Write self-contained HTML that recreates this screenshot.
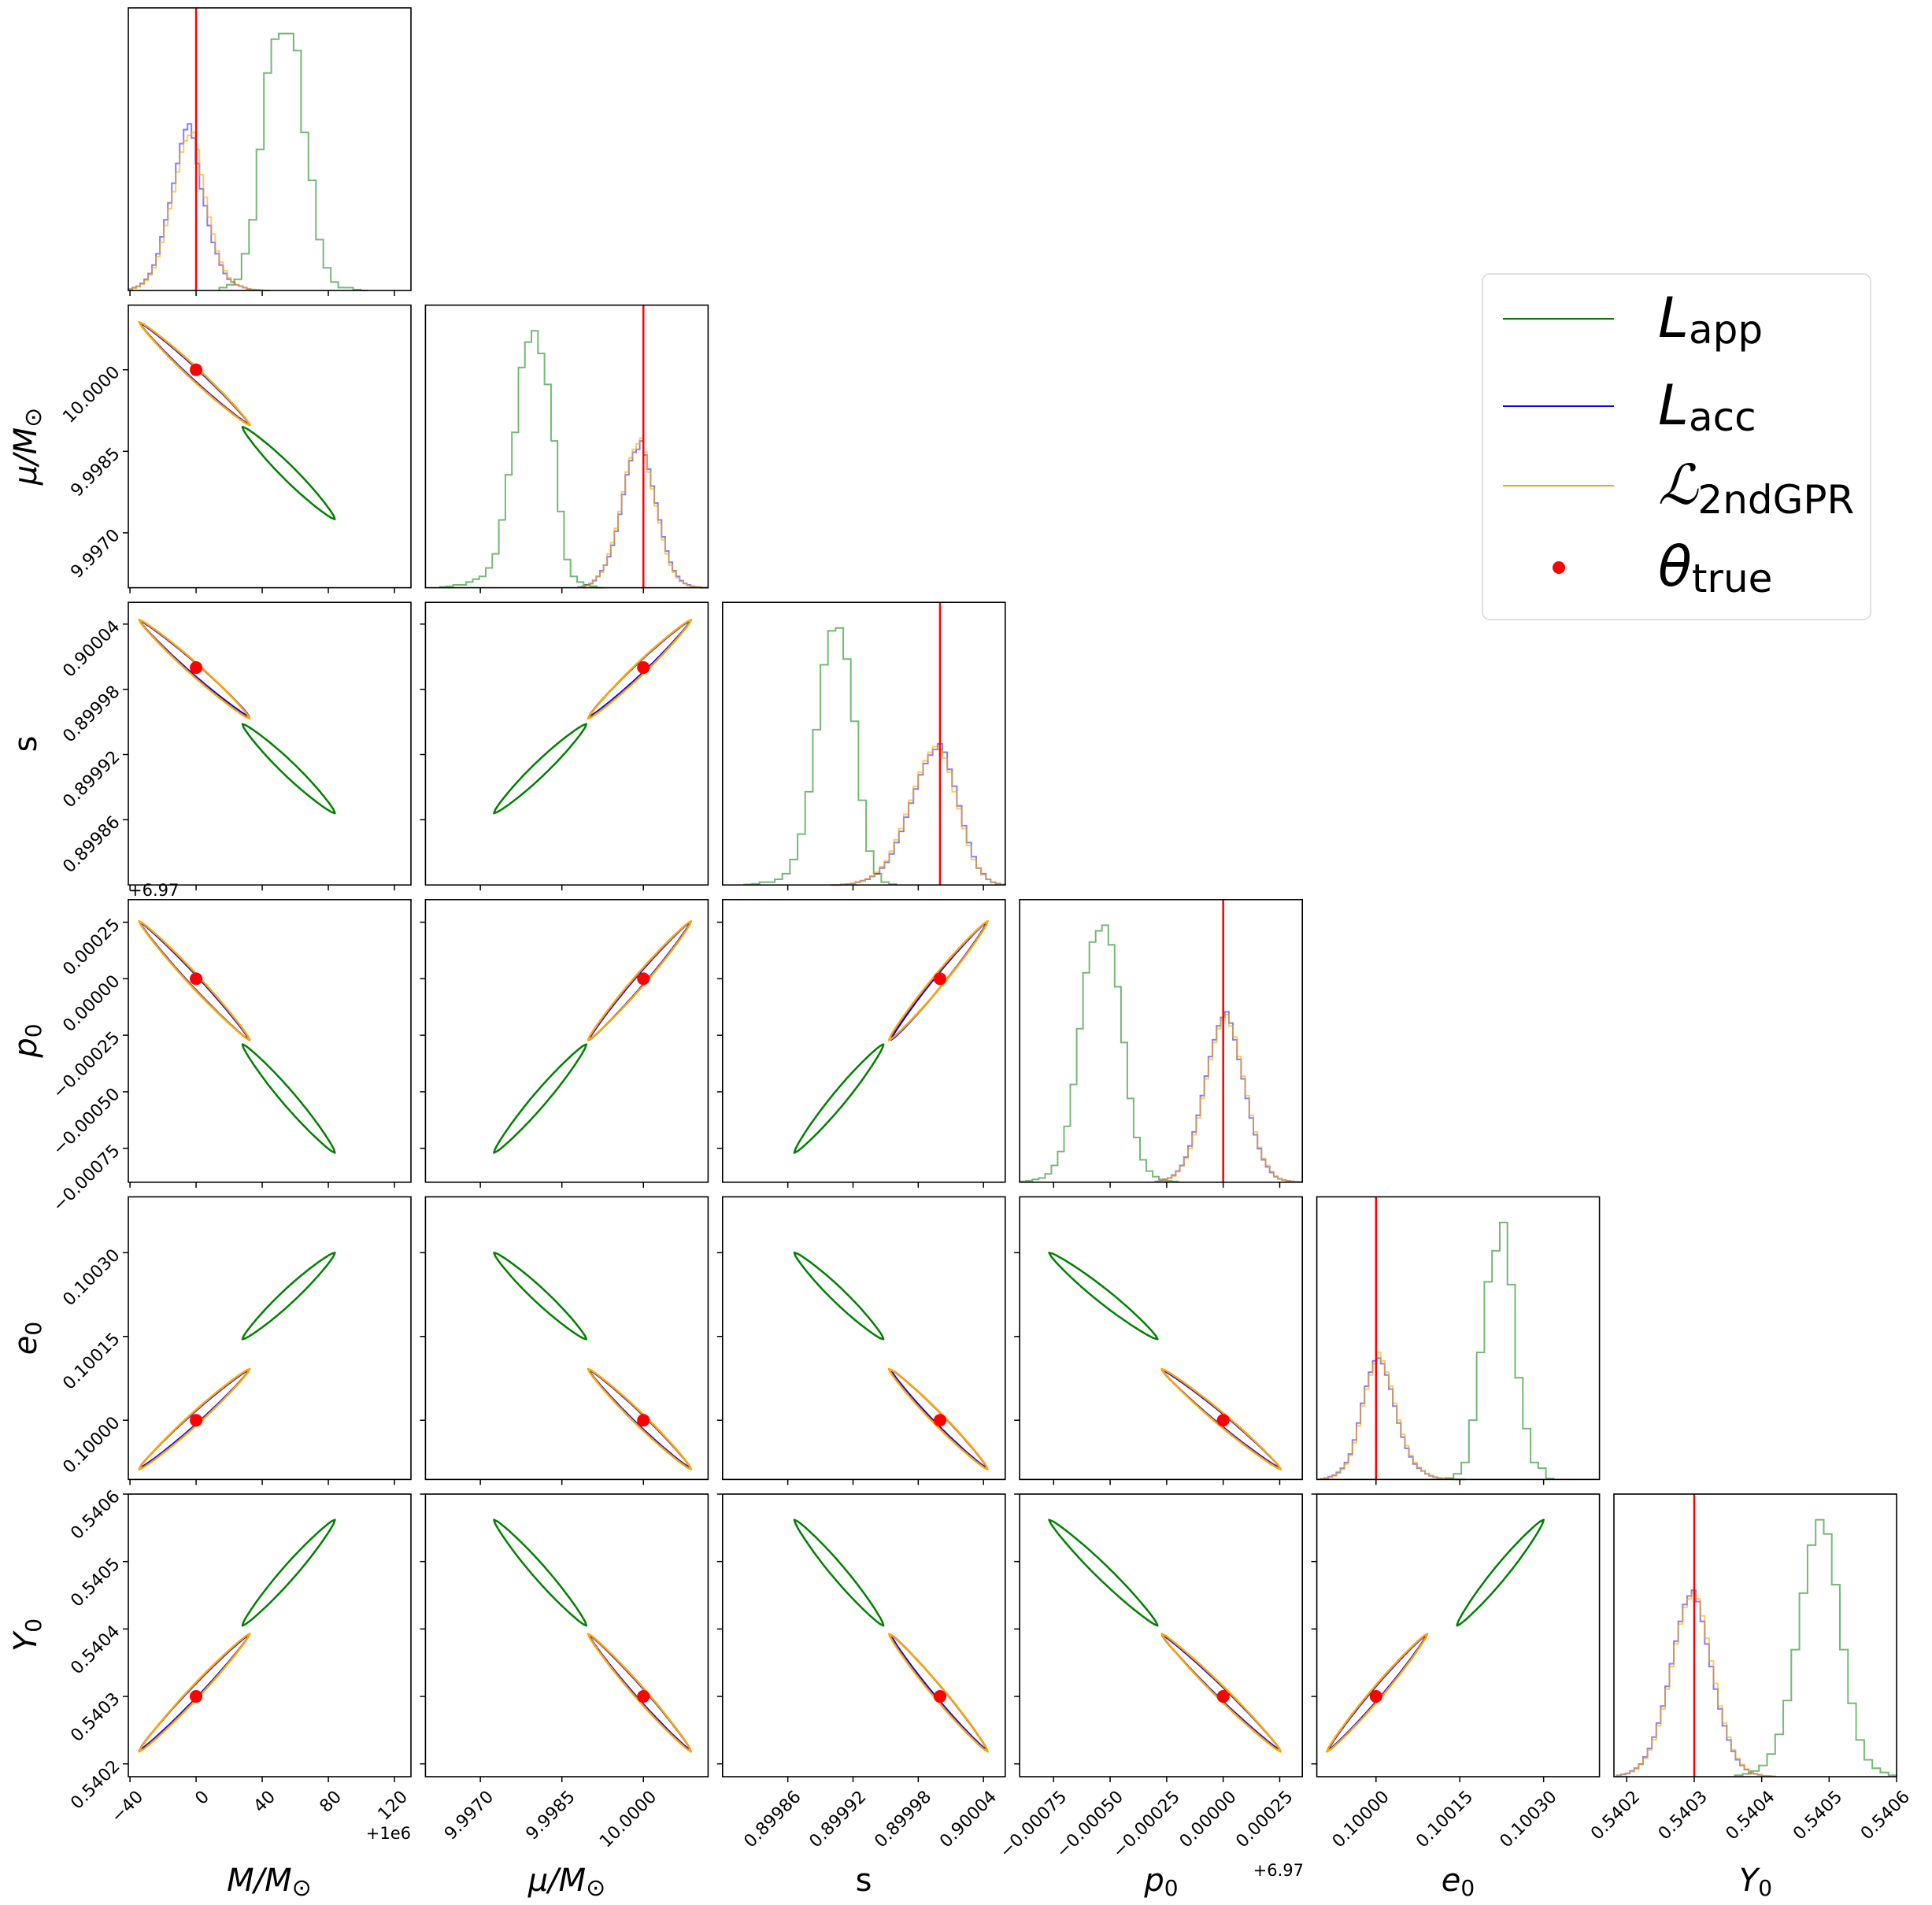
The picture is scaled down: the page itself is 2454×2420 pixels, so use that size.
<!DOCTYPE html>
<html><head><meta charset="utf-8">
<style>
html,body{margin:0;padding:0;background:#fff;}
svg{display:block;font-family:"DejaVu Sans","Liberation Sans",sans-serif;}
</style></head>
<body>
<svg id="fig" width="2454" height="2420" viewBox="0 0 2454 2420" xmlns="http://www.w3.org/2000/svg">
<rect width="2454" height="2420" fill="#fff"/>
</svg>
<script>
// ---------- data ----------
const paramNames = ["M","mu","s","p","e","Y"];
const truths = [0, 10.0, 0.9, 0.0, 0.1, 0.5403];
const domLo = [-41, 9.99599, 0.89980, -0.00090, 0.099894, 0.540181];
const domHi = [130, 10.00119, 0.90006, 0.00035, 0.100400, 0.540600];
const tickVals = [
  [-40,0,40,80,120],
  [9.9970,9.9985,10.0000],
  [0.89986,0.89992,0.89998,0.90004],
  [-0.00075,-0.00050,-0.00025,0,0.00025],
  [0.10000,0.10015,0.10030],
  [0.5402,0.5403,0.5404,0.5405,0.5406]
];
const tickLabels = [
  ["\u221240","0","40","80","120"],
  ["9.9970","9.9985","10.0000"],
  ["0.89986","0.89992","0.89998","0.90004"],
  ["\u22120.00075","\u22120.00050","\u22120.00025","0.00000","0.00025"],
  ["0.10000","0.10015","0.10030"],
  ["0.5402","0.5403","0.5404","0.5405","0.5406"]
];
const greenLo = [14, 9.99626, 0.89982, -0.00090, 0.100125, 0.54036];
const greenHi = [104, 9.99926, 0.89996, -0.00020, 0.100318, 0.54060];
const greenM = [1,2,4,13,25,50,77,89,91,91,85,56,39,18,8,3,1,1,0.3,0];
const greenMu = [0.3,0.5,1,1,2,3,4,7,12,24,40,55,78,87,91,83,72,52,27,10,4,2,1,0.5,0];
const greenS = [0.2,0.4,1,1,2,4,9,18,33,55,78,90,91,80,58,30,12,4,1,0.3];
const greenP = [0.3,0.5,1,1.5,3,6,11,20,35,55,75,86,90,92,85,70,50,30,16,8,4,2,1,0.5,0.3];
const greenE = [0.5,2,6,21,45,70,81,91,69,36,18,6,4,0.3];
const greenY = [0.5,1,2,4,8,15,27,45,65,82,91,86,68,45,26,13,6,3,1.5,0.5];
const blueLo = [-41, 9.99880, 0.89990, -0.00030, 0.09990, 0.540185];
const blueHi = [45, 10.00120, 0.90006, 0.00035, 0.10016, 0.540420];
const blueM = [0.5,1,1.5,2.5,4,6,9,13,19,25,31,38,45,52,57,59,54,45,36,30,23,17,13,9,6,4,3,2,1.5,1,0.5,0.3,0.2,0.1,0,0];
const blueMu = [0.3,0.5,1,1.5,2.5,4,6,8,11,15,20,26,33,40,45,48,49,52,47,42,36,30,24,18,13,9,6,4,2.5,1.5,1,0.5,0.3,0.2,0,0];
const blueS = [0,0,0.2,0.3,0.5,1,1.5,2,3,4,6,8,11,15,19,24,29,34,39,43,46,48,50,47,41,35,28,21,15,10,6,4,2,1,0.5,0.2];
const blueP = [0.3,0.5,1,1.5,2.5,4,6,9,13,18,24,31,38,45,51,56,59,61,57,51,44,37,30,23,17,12,8,5.5,3.5,2,1.2,0.8,0.5,0.3,0.2,0.1];
const blueE = [0.2,0.5,1,1.5,2.5,4,6,9,14,20,27,33,38,42,43,41,37,32,26,20,15,11,8,5.5,4,3,2,1.3,0.8,0.5,0.3,0.2,0.1,0,0,0];
const blueY = [0.5,0.8,1.2,2,3,4.5,7,10,14,19,25,32,40,48,55,61,64,66,62,55,47,39,31,24,18,13,9,6,4,2.5,1.5,1,0.6,0.3,0.2,0.1];
const orangeM = [0.5,0.8,1.3,2.2,3.5,5.5,8,12,17,23,29,35,42,49,53,55,56,50,41,33,26,20,14,10,7,4.5,3,2,1.5,1,0.6,0.3,0.2,0.1,0,0];
const orangeMu = [0.2,0.4,0.8,1.5,2.8,4,5.5,8,12,16,21,27,34,41,46,49,51,53,48,41,35,29,23,17,12,8,5.5,3.5,2.2,1.5,0.8,0.5,0.3,0.1,0,0];
const orangeS = [0,0,0.1,0.3,0.6,0.9,1.4,2.2,3.2,4.5,6.5,8.5,12,16,20,25,30,35,40,44,47,49,48,45,40,33,27,20,14,9,6,3.5,2,1,0.4,0.2];
const orangeP = [0.2,0.4,0.9,1.4,2.2,3.8,5.8,8.5,12,17,23,30,37,44,50,55,58,60,56,52,45,38,31,24,18,12.5,8.5,6,3.8,2.2,1.3,0.8,0.5,0.3,0.2,0.1];
const orangeE = [0.2,0.4,0.8,1.3,2.2,3.6,5.5,8.5,13,19,26,32,37,41,45,42,38,33,27,21,16,12,8.5,6,4.2,3,2,1.4,0.9,0.5,0.3,0.2,0.1,0,0,0];
const orangeY = [0.4,0.7,1.1,1.8,2.8,4.2,6.5,9.5,13,18,24,31,39,47,54,60,63,65,63,57,49,41,33,25,19,14,9.5,6.5,4.2,2.7,1.6,1,0.6,0.3,0.2,0.1];
const greenEndA = [28, 9.99895, 0.899948, -0.00029, 0.100145, 0.540405];
const greenEndB = [84, 9.99725, 0.899866, -0.00077, 0.100300, 0.540562];
const blueEndA = [-34, 10.00086, 0.900043, 0.00025, 0.099915, 0.540221];
const blueEndB = [32, 9.99900, 0.899955, -0.00027, 0.100090, 0.540391];
const orangeEndA = [-34.5, 10.00088, 0.900044, 0.000255, 0.099912, 0.540218];
const orangeEndB = [32.5, 9.99898, 0.899953, -0.000272, 0.100092, 0.540393];

const greenH = [greenM,greenMu,greenS,greenP,greenE,greenY];
const blueH = [blueM,blueMu,blueS,blueP,blueE,blueY];
const orangeH = [orangeM,orangeMu,orangeS,orangeP,orangeE,orangeY];

// ---------- layout ----------
const NS = "http://www.w3.org/2000/svg";
const svg = document.getElementById("fig");
const PL = 163, PT = 10, STEPX = 377.4, STEPY = 377.6, PW = 359, PH = 359;
function px(c, v){ return PL + c*STEPX + (v-domLo[c])/(domHi[c]-domLo[c])*PW; }
function py(r, v){ return PT + r*STEPY + (domHi[r]-v)/(domHi[r]-domLo[r])*PH; }
function mk(tag, attrs, parent){
  const e = document.createElementNS(NS, tag);
  for (const k in attrs) e.setAttribute(k, attrs[k]);
  (parent||svg).appendChild(e);
  return e;
}

function histPath(c, r, lo, hi, h, ymax){
  const n = h.length, w = (hi-lo)/n;
  const base = PT + r*STEPY + PH;
  let d = "M" + px(c, lo).toFixed(1) + "," + base;
  for (let i=0;i<n;i++){
    const x0 = px(c, lo+i*w), x1 = px(c, lo+(i+1)*w);
    const y = base - h[i]/ymax*PH;
    d += " L" + x0.toFixed(1) + "," + y.toFixed(1) + " L" + x1.toFixed(1) + "," + y.toFixed(1);
  }
  d += " L" + px(c, hi).toFixed(1) + "," + base;
  return d;
}

function needle(cx, ry, A, B, hw){
  const x0 = px(cx, A[cx]), y0 = py(ry, A[ry]);
  const x1 = px(cx, B[cx]), y1 = py(ry, B[ry]);
  const dx = x1-x0, dy = y1-y0, L = Math.hypot(dx,dy)||1;
  const nx = -dy/L, ny = dx/L;
  const N = 40, pts = [];
  for (let i=0;i<=N;i++){ const t=i/N, s=Math.pow(Math.sin(Math.PI*t),0.6)*hw;
    pts.push([x0+dx*t+nx*s, y0+dy*t+ny*s]); }
  for (let i=N;i>=0;i--){ const t=i/N, s=Math.pow(Math.sin(Math.PI*t),0.6)*hw;
    pts.push([x0+dx*t-nx*s, y0+dy*t-ny*s]); }
  return "M" + pts.map(p=>p[0].toFixed(1)+","+p[1].toFixed(1)).join(" L") + " Z";
}

const panelsG = mk("g", {});



for (let r=0;r<6;r++){
  for (let c=0;c<=r;c++){
    const left = PL + c*STEPX, top = PT + r*STEPY;
    const g = mk("g", {}, panelsG);
    
    
    if (r === c){
      const ymax = Math.max(...greenH[c], ...blueH[c], ...orangeH[c]) * 1.1;
      const gp = mk("path", {d: histPath(c, r, greenLo[c], greenHi[c], greenH[c], ymax), fill:"none", stroke:"#008000", "stroke-opacity":"0.55", "stroke-width":"2"}, g);
      
      
      const bp = mk("path", {d: histPath(c, r, blueLo[c], blueHi[c], blueH[c], ymax), fill:"none", stroke:"#0000ff", "stroke-opacity":"0.5", "stroke-width":"2"}, g);
      
      
      const op = mk("path", {d: histPath(c, r, blueLo[c], blueHi[c], orangeH[c], ymax), fill:"none", stroke:"#ffa500", "stroke-opacity":"0.6", "stroke-width":"2"}, g);
      
      
      const tl = mk("line", {x1:px(c,truths[c]), x2:px(c,truths[c]), y1:top, y2:top+PH, stroke:"#ff0000", "stroke-width":"2.5"}, g);
      
      
    } else {
      const gc = mk("path", {d: needle(c, r, greenEndA, greenEndB, 9), fill:"none", stroke:"#008000", "stroke-width":"2.5", "stroke-linejoin":"round"}, g);
      
      
      const bc = mk("path", {d: needle(c, r, blueEndA, blueEndB, 6.5), fill:"none", stroke:"#0000ff", "stroke-width":"2.5", "stroke-linejoin":"round"}, g);
      
      
      const oc = mk("path", {d: needle(c, r, orangeEndA, orangeEndB, 7.5), fill:"none", stroke:"#ffa500", "stroke-width":"2.5", "stroke-linejoin":"round"}, g);
      
      
      const dot = mk("circle", {cx:px(c,truths[c]), cy:py(r,truths[r]), r:"8", fill:"#ff0000"}, g);
      
      
      tickVals[r].forEach((v,i)=>{
        const y = py(r, v);
        const t = mk("line", {x1:left-7, x2:left, y1:y, y2:y, stroke:"#000", "stroke-width":"1.5"}, g);
        
        
        if (c === 0){
          const tx = mk("text", {x:left-14, y:y, "font-size":"22", "text-anchor":"end", transform:"rotate(-45 " + (left-14) + " " + y + ")", "dominant-baseline":"middle"}, g);
          tx.textContent = tickLabels[r][i];
          
          
        }
      });
    }
    tickVals[c].forEach((v,i)=>{
      const x = px(c, v);
      const t = mk("line", {x1:x, x2:x, y1:top+PH, y2:top+PH+7, stroke:"#000", "stroke-width":"1.5"}, g);
      
      
      if (r === 5){
        const ty = top+PH+16;
        const tx = mk("text", {x:x+7, y:ty, "font-size":"22", "text-anchor":"end", transform:"rotate(-45 " + (x+7) + " " + ty + ")", "dominant-baseline":"hanging"}, g);
        tx.textContent = tickLabels[c][i];
        
        
      }
    });
    const fr = mk("rect", {x:left, y:top, width:PW, height:PH, fill:"none", stroke:"#000", "stroke-width":"1.6"}, g);
    
    
  }
}
</script>
<svg style="position:absolute;left:0;top:0" width="2454" height="2420">
  <g font-family="DejaVu Sans, Liberation Sans, sans-serif" fill="#000">
    <text x="522" y="2336" font-size="21" text-anchor="end">+1e6</text>
    <text x="1656" y="2383" font-size="21" text-anchor="end">+6.97</text>
    <text x="163" y="1138" font-size="21">+6.97</text>
    <text x="342" y="2402" font-size="40" text-anchor="middle" font-style="italic">M/M<tspan font-style="normal" font-size="30" dy="6">⊙</tspan></text>
    <text x="720" y="2402" font-size="40" text-anchor="middle" font-style="italic">μ/M<tspan font-style="normal" font-size="30" dy="6">⊙</tspan></text>
    <text x="1097" y="2402" font-size="40" text-anchor="middle">s</text>
    <text x="1475" y="2402" font-size="40" text-anchor="middle" font-style="italic">p<tspan font-style="normal" font-size="28" dy="6">0</tspan></text>
    <text x="1852" y="2402" font-size="40" text-anchor="middle" font-style="italic">e<tspan font-style="normal" font-size="28" dy="6">0</tspan></text>
    <text x="2230" y="2402" font-size="40" text-anchor="middle" font-style="italic">Y<tspan font-style="normal" font-size="28" dy="6">0</tspan></text>
    <text transform="translate(46 567) rotate(-90)" font-size="40" text-anchor="middle" font-style="italic">μ/M<tspan font-style="normal" font-size="30" dy="6">⊙</tspan></text>
    <text transform="translate(46 945) rotate(-90)" font-size="40" text-anchor="middle">s</text>
    <text transform="translate(46 1322) rotate(-90)" font-size="40" text-anchor="middle" font-style="italic">p<tspan font-style="normal" font-size="28" dy="6">0</tspan></text>
    <text transform="translate(46 1700) rotate(-90)" font-size="40" text-anchor="middle" font-style="italic">e<tspan font-style="normal" font-size="28" dy="6">0</tspan></text>
    <text transform="translate(46 2077) rotate(-90)" font-size="40" text-anchor="middle" font-style="italic">Y<tspan font-style="normal" font-size="28" dy="6">0</tspan></text>
  </g>
  <g font-family="DejaVu Sans, Liberation Sans, sans-serif">
    <rect x="1883" y="348" width="493" height="439" rx="9" fill="#fff" stroke="#d6d6d6" stroke-width="1.5"/>
    <line x1="1909" x2="2050" y1="405" y2="405" stroke="#008000" stroke-width="2"/>
    <text x="2106" y="428" font-size="70" font-style="italic">L<tspan font-style="normal" font-size="50" dy="8">app</tspan></text>
    <line x1="1909" x2="2050" y1="516" y2="516" stroke="#0000ff" stroke-width="2"/>
    <text x="2106" y="539" font-size="70" font-style="italic">L<tspan font-style="normal" font-size="50" dy="8">acc</tspan></text>
    <line x1="1909" x2="2050" y1="617" y2="617" stroke="#ffa500" stroke-width="2"/>
    <text x="2106" y="640" font-size="70" font-style="italic" font-family="Liberation Serif, serif">ℒ<tspan font-style="normal" font-size="50" dy="12" font-family="DejaVu Sans, sans-serif">2ndGPR</tspan></text>
    <circle cx="1980" cy="721" r="8" fill="#ff0000"/>
    <text x="2106" y="744" font-size="70" font-style="italic">θ<tspan font-style="normal" font-size="50" dy="8">true</tspan></text>
  </g>
</svg>
</body></html>
